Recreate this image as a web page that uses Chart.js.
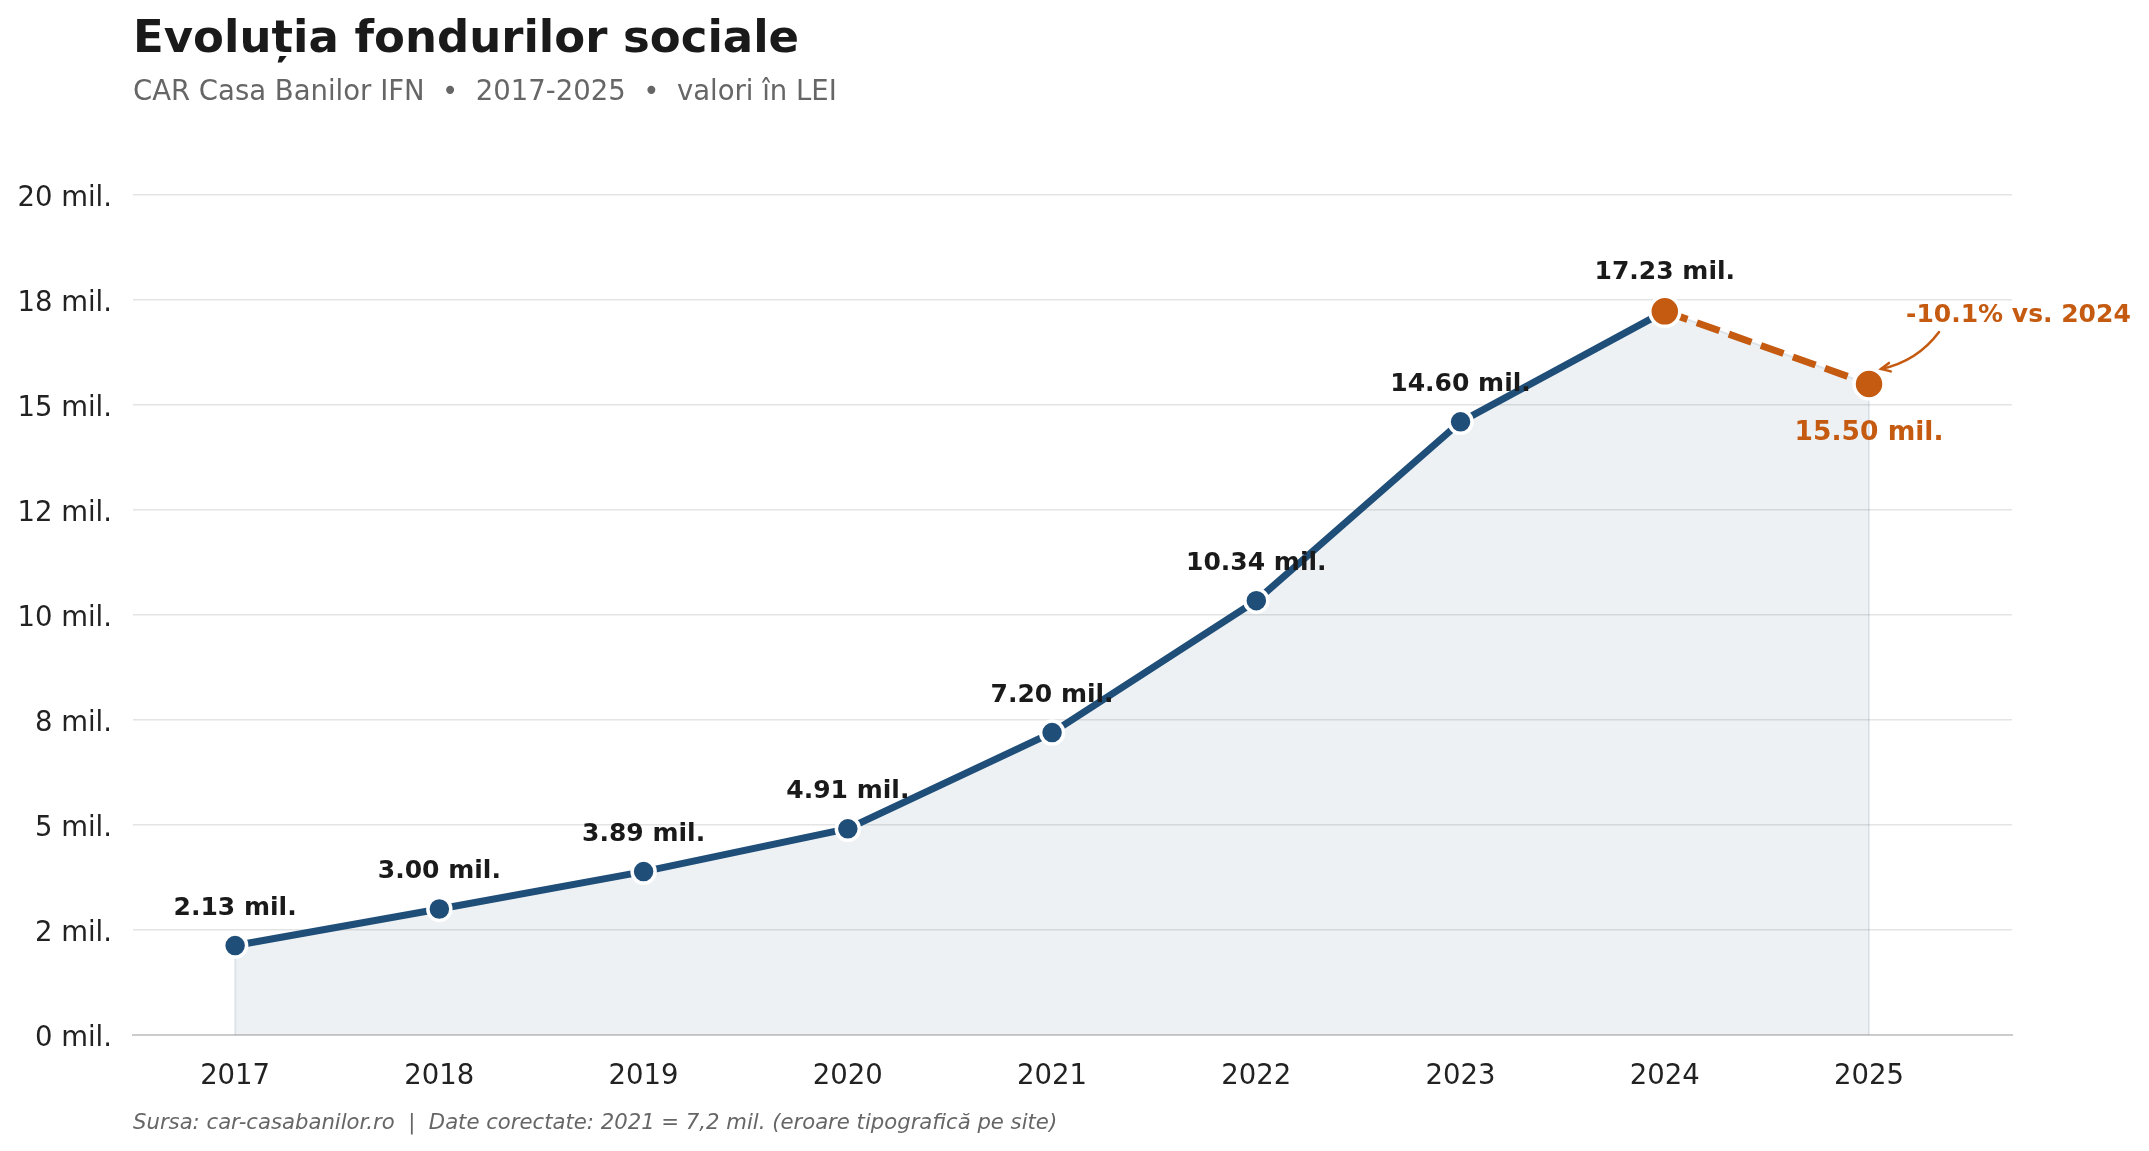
<!DOCTYPE html>
<html>
<head>
<meta charset="utf-8">
<script src="https://cdn.jsdelivr.net/npm/chart.js@4.4.1/dist/chart.umd.min.js"></script>
<style>
html,body{margin:0;padding:0;background:#ffffff;}
canvas{display:block;}
</style>
</head>
<body>
<canvas id="c" width="2149" height="1151" style="width:2149px;height:1151px"></canvas>
<script>
// ---- data ----
const years = [2017, 2018, 2019, 2020, 2021, 2022, 2023, 2024, 2025];
const funds = [2.13, 3.00, 3.89, 4.91, 7.20, 10.34, 14.60, 17.23, 15.50];
const valueLabels = ['2.13 mil.', '3.00 mil.', '3.89 mil.', '4.91 mil.', '7.20 mil.', '10.34 mil.', '14.60 mil.', '17.23 mil.', '15.50 mil.'];
const yTicks = [0, 2.5, 5, 7.5, 10, 12.5, 15, 17.5, 20];
const yTickLabels = ['0 mil.', '2 mil.', '5 mil.', '8 mil.', '10 mil.', '12 mil.', '15 mil.', '18 mil.', '20 mil.'];
const titleText = 'Evoluția fondurilor sociale';
const subtitleText = 'CAR Casa Banilor IFN  \u2022  2017-2025  \u2022  valori în LEI';
const footerText = 'Sursa: car-casabanilor.ro  |  Date corectate: 2021 = 7,2 mil. (eroare tipografică pe site)';
const changeText = '-10.1% vs. 2024';

// ---- styles ----
const BLUE = '#1f4e79';
const ORANGE = '#c55a11';
const FONT = "'DejaVu Sans', sans-serif";

const pts = years.map((x, i) => ({x: x, y: funds[i]}));
const actualPts = pts.slice(0, years.length - 1);
const lastPts = pts.slice(years.length - 2);
const fillPts = [{x: years[0], y: 0}].concat(pts, [{x: years[years.length - 1], y: 0}]);

const overlay = {
  id: 'overlay',
  afterDatasetsDraw(chart) {
    const ctx = chart.ctx;
    const xs = chart.scales.x, ys = chart.scales.y;
    ctx.save();
    ctx.textAlign = 'center';
    ctx.textBaseline = 'alphabetic';
    const n = years.length;
    for (let i = 0; i < n; i++) {
      const px = xs.getPixelForValue(years[i]);
      const py = ys.getPixelForValue(funds[i]);
      if (i === n - 1) {
        ctx.font = "bold 26.5px " + FONT;
        ctx.fillStyle = ORANGE;
        ctx.fillText(valueLabels[i], px, py + 56);
      } else {
        ctx.font = "bold 25px " + FONT;
        ctx.fillStyle = '#1a1a1a';
        ctx.fillText(valueLabels[i], px, py - (i === n - 2 ? 32 : 31));
      }
    }
    // change annotation
    const lx = xs.getPixelForValue(years[n - 1]);
    const ly = ys.getPixelForValue(funds[n - 1]);
    ctx.font = "bold 25px " + FONT;
    ctx.fillStyle = ORANGE;
    ctx.textAlign = 'left';
    ctx.fillText(changeText, lx + 37, ly - 62);
    // curved arrow
    const tx = lx + 70, ty = ly - 52;
    const hx = lx + 12, hy = ly - 15;
    const mx = (tx + hx) / 2, my = (ty + hy) / 2;
    const dx = hx - tx, dy = hy - ty;
    const len = Math.hypot(dx, dy);
    const c2x = mx + (dy / len) * 13, c2y = my - (dx / len) * 13;
    ctx.strokeStyle = ORANGE;
    ctx.lineWidth = 2.5;
    ctx.lineCap = 'round';
    ctx.beginPath();
    ctx.moveTo(tx, ty);
    ctx.quadraticCurveTo(c2x, c2y, hx, hy);
    ctx.stroke();
    // arrow head
    const ang = Math.atan2(hy - c2y, hx - c2x);
    const hl = 10, spread = 0.45;
    ctx.beginPath();
    ctx.moveTo(hx - hl * Math.cos(ang - spread), hy - hl * Math.sin(ang - spread));
    ctx.lineTo(hx, hy);
    ctx.lineTo(hx - hl * Math.cos(ang + spread), hy - hl * Math.sin(ang + spread));
    ctx.stroke();
    ctx.restore();
  },
  afterDraw(chart) {
    const ctx = chart.ctx;
    const left = chart.chartArea.left;
    ctx.save();
    ctx.textAlign = 'left';
    ctx.textBaseline = 'alphabetic';
    ctx.fillStyle = '#1a1a1a';
    ctx.font = "bold 45px " + FONT;
    ctx.fillText(titleText, left, 52);
    ctx.fillStyle = '#666666';
    ctx.font = "27.5px " + FONT;
    ctx.fillText(subtitleText, left, 100);
    ctx.fillStyle = '#666666';
    ctx.font = "italic 21.2px " + FONT;
    ctx.fillText(footerText, left, 1129);
    ctx.restore();
  }
};

Chart.defaults.font.family = FONT;

new Chart(document.getElementById('c'), {
  type: 'line',
  data: {
    datasets: [
      {
        label: '2025',
        data: lastPts,
        order: 0,
        borderColor: ORANGE,
        borderWidth: 7,
        borderDash: [24, 10],
        borderCapStyle: 'butt',
        pointRadius: 15,
        pointBackgroundColor: ORANGE,
        pointBorderColor: '#ffffff',
        pointBorderWidth: 3.5,
        fill: false,
        tension: 0
      },
      {
        label: 'Fonduri sociale',
        data: actualPts,
        order: 1,
        borderColor: BLUE,
        borderWidth: 7,
        pointRadius: 11.5,
        pointBackgroundColor: BLUE,
        pointBorderColor: '#ffffff',
        pointBorderWidth: 3.5,
        fill: false,
        tension: 0
      },
      {
        label: 'fill',
        data: fillPts,
        order: 2,
        borderColor: 'rgba(31,78,121,0.10)',
        borderWidth: 2,
        backgroundColor: 'rgba(31,78,121,0.08)',
        pointRadius: 0,
        fill: 'origin',
        tension: 0
      }
    ]
  },
  options: {
    responsive: false,
    devicePixelRatio: 1,
    animation: false,
    events: [],
    layout: {padding: {top: 195, right: 137, bottom: 0, left: 0}},
    plugins: {
      legend: {display: false},
      title: {display: false},
      tooltip: {enabled: false}
    },
    scales: {
      x: {
        type: 'linear',
        min: 2016.5,
        max: 2025.7,
        afterFit(s) { s.height = 116; },
        afterBuildTicks(s) { s.ticks = years.map(v => ({value: v})); },
        grid: {display: false, drawTicks: false},
        border: {display: true, color: '#cccccc', width: 2},
        ticks: {
          padding: 25,
          color: '#222222',
          font: {size: 27.5},
          maxRotation: 0,
          autoSkip: false,
          callback: (v) => String(v)
        }
      },
      y: {
        type: 'linear',
        min: 0,
        max: 20,
        afterFit(s) { s.width = 133; },
        afterBuildTicks(s) { s.ticks = yTicks.map(v => ({value: v})); },
        grid: {display: true, color: '#e4e4e4', lineWidth: 1.5, drawTicks: false},
        border: {display: false},
        ticks: {
          padding: 21,
          labelOffset: 4,
          color: '#222222',
          font: {size: 27.5},
          autoSkip: false,
          callback: (v, i) => yTickLabels[i]
        }
      }
    }
  },
  plugins: [overlay]
});
</script>
</body>
</html>
